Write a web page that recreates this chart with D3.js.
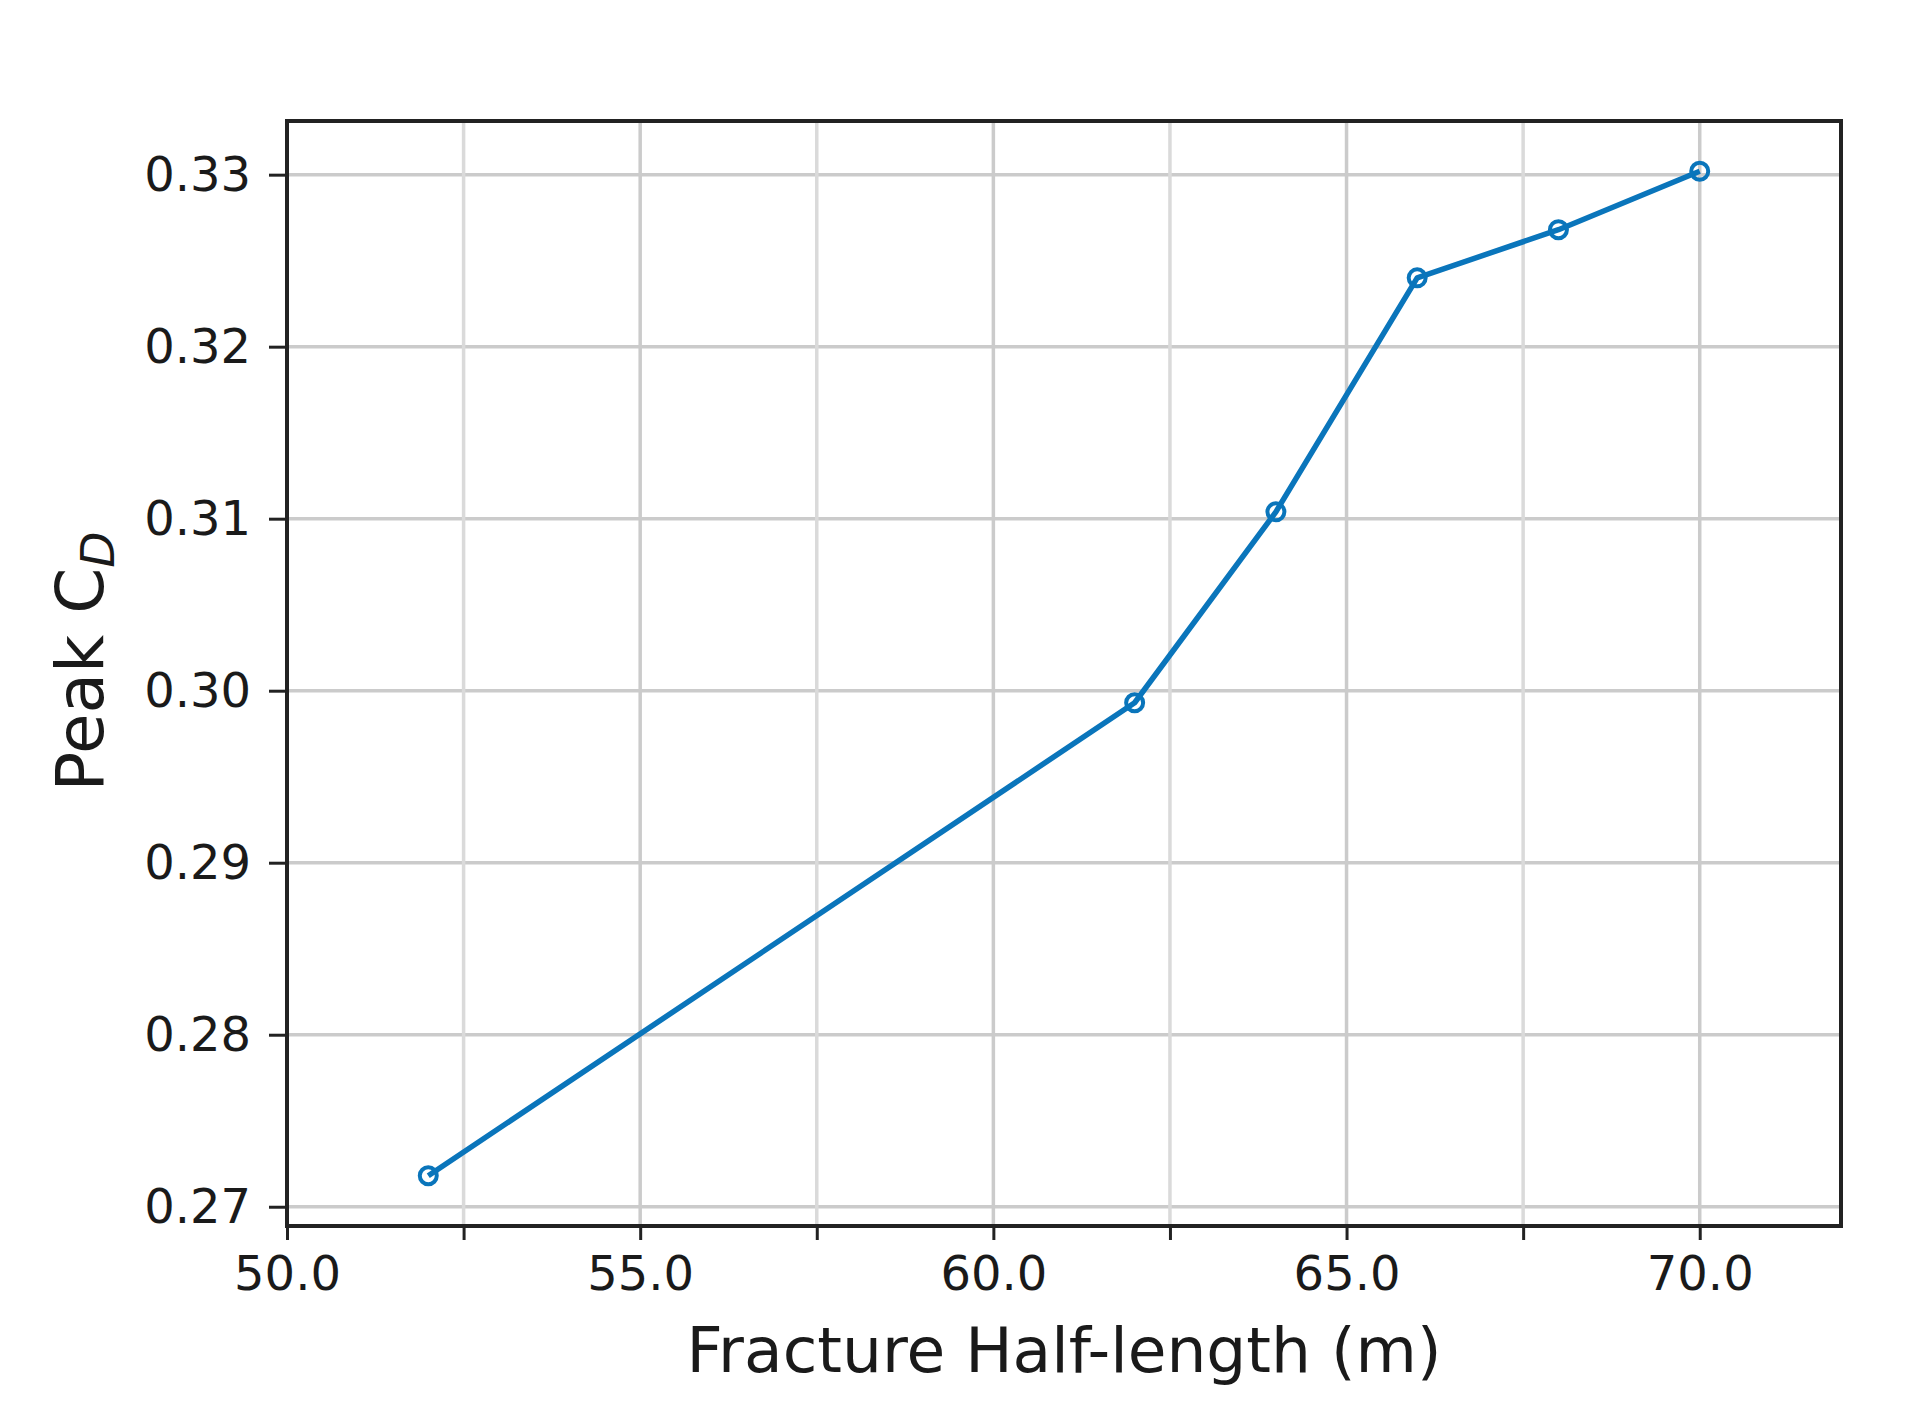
<!DOCTYPE html>
<html>
<head>
<meta charset="utf-8">
<script src="https://cdn.jsdelivr.net/npm/d3@7"></script>
<style>
  html, body { margin: 0; padding: 0; background: #ffffff; }
  svg { display: block; }
  text { font-family: "DejaVu Sans", sans-serif; fill: #1a1a1a; }
</style>
</head>
<body>
<svg id="chart" width="1906" height="1415"></svg>
<script>
// ---- data ----
const halfLength = [52, 62, 64, 66, 68, 70];
const peakCD = [0.2718, 0.2993, 0.3104, 0.3240, 0.3268, 0.3302];
const xMajorTicks = [50, 55, 60, 65, 70];
const xMinorTicks = [52.5, 57.5, 62.5, 67.5];
const yTicks = [0.27, 0.28, 0.29, 0.30, 0.31, 0.32, 0.33];
const xLabel = "Fracture Half-length (m)";
const yLabelMain = "Peak C";
const yLabelSub = "D";

// ---- layout ----
const svg = d3.select("#chart");
const mLeft = 287, mRight = 1841, mTop = 121, mBottom = 1226;

const x = d3.scaleLinear().domain([50, 72]).range([mLeft, mRight]);
const y = d3.scaleLinear().domain([0.26888, 0.33312]).range([mBottom, mTop]);

// grid
const grid = svg.append("g");
grid.selectAll("line.ymaj").data(yTicks).join("line")
  .attr("x1", mLeft).attr("x2", mRight)
  .attr("y1", d => y(d)).attr("y2", d => y(d))
  .attr("stroke", "#cbcbcb").attr("stroke-width", 3.5);
grid.selectAll("line.xmaj").data(xMajorTicks.concat(xMinorTicks)).join("line")
  .attr("x1", d => x(d)).attr("x2", d => x(d))
  .attr("y1", mTop).attr("y2", mBottom)
  .attr("stroke", d => xMajorTicks.includes(d) ? "#cbcbcb" : "#dadada")
  .attr("stroke-width", 3.5);

// x axis
const xAxis = d3.axisBottom(x)
  .tickValues(xMajorTicks.concat(xMinorTicks))
  .tickSize(14).tickPadding(16)
  .tickFormat(d => xMajorTicks.includes(d) ? d3.format(".1f")(d) : "");
const gx = svg.append("g").attr("transform", `translate(0,${mBottom})`).call(xAxis);
gx.select(".domain").remove();
gx.selectAll(".tick line").attr("stroke", "#222").attr("stroke-width", 3);
gx.selectAll(".tick text").attr("font-size", 48).attr("fill", "#1a1a1a")
  .attr("font-family", "DejaVu Sans, sans-serif");

// y axis
const yAxis = d3.axisLeft(y)
  .tickValues(yTicks)
  .tickSize(18).tickPadding(18)
  .tickFormat(d3.format(".2f"));
const gy = svg.append("g").attr("transform", `translate(${mLeft},0)`).call(yAxis);
gy.select(".domain").remove();
gy.selectAll(".tick line").attr("stroke", "#222").attr("stroke-width", 3);
gy.selectAll(".tick text").attr("font-size", 48).attr("fill", "#1a1a1a")
  .attr("font-family", "DejaVu Sans, sans-serif");

// frame
svg.append("rect")
  .attr("x", mLeft).attr("y", mTop)
  .attr("width", mRight - mLeft).attr("height", mBottom - mTop)
  .attr("fill", "none").attr("stroke", "#222").attr("stroke-width", 4);

// line
const pts = halfLength.map((d, i) => [d, peakCD[i]]);
svg.append("path")
  .datum(pts)
  .attr("d", d3.line().x(d => x(d[0])).y(d => y(d[1])))
  .attr("fill", "none").attr("stroke", "#0a75bb").attr("stroke-width", 5.5)
  .attr("stroke-linejoin", "round");
svg.selectAll("circle.pt").data(pts).join("circle")
  .attr("cx", d => x(d[0])).attr("cy", d => y(d[1]))
  .attr("r", 8.5)
  .attr("fill", "none").attr("stroke", "#0a75bb").attr("stroke-width", 4);

// labels
svg.append("text")
  .attr("x", (mLeft + mRight) / 2).attr("y", 1372)
  .attr("text-anchor", "middle").attr("font-size", 63)
  .text(xLabel);

const yl = svg.append("text")
  .attr("transform", `translate(103,${(mTop + mBottom) / 2 - 12}) rotate(-90)`)
  .attr("text-anchor", "middle").attr("font-size", 66);
yl.append("tspan").text(yLabelMain);
yl.append("tspan").text(yLabelSub)
  .attr("font-size", 47).attr("font-style", "italic").attr("dy", 11);
</script>
</body>
</html>
